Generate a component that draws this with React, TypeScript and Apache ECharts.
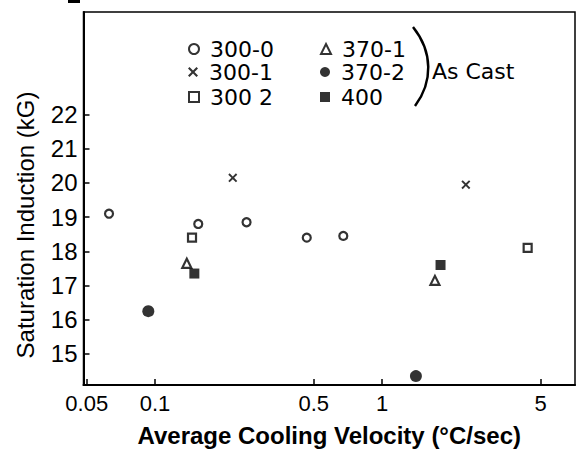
import React, { useEffect, useRef } from "react";
import * as echarts from "echarts";

const seriesNames = ["300-0", "300-1", "300 2", "370-1", "370-2", "400"];
const s300_0 = [[0.0627, 19.1], [0.155, 18.8], [0.253, 18.85], [0.466, 18.4], [0.675, 18.45]];
const s300_1 = [[0.22, 20.15], [2.34, 19.95]];
const s300_2 = [[0.1455, 18.4], [4.38, 18.1]];
const s370_1 = [[0.138, 17.65], [1.71, 17.15]];
const s370_2 = [[0.0934, 16.25], [1.41, 14.35]];
const s400 = [[0.149, 17.35], [1.81, 17.6]];
const xTicks = [0.05, 0.1, 0.5, 1, 5];
const yTicks = [15, 16, 17, 18, 19, 20, 21, 22];

const CROSS = "path://M0,1.5L1.5,0L5,3.5L8.5,0L10,1.5L6.5,5L10,8.5L8.5,10L5,6.5L1.5,10L0,8.5L3.5,5Z";

export default function App() {
  const ref = useRef<HTMLDivElement>(null);
  useEffect(() => {
    const chart = echarts.init(ref.current!, null, { renderer: "svg" });
    const hollow = { color: "#fff", borderColor: "#000", borderWidth: 2.2 };
    const solid = { color: "#000", borderColor: "#000", borderWidth: 0 };
    const styles: any[] = [
      { symbol: "circle", symbolSize: 8, itemStyle: hollow, data: s300_0 },
      { symbol: CROSS, symbolSize: 9, itemStyle: solid, data: s300_1 },
      { symbol: "rect", symbolSize: 8, itemStyle: hollow, data: s300_2 },
      { symbol: "triangle", symbolSize: 9, itemStyle: hollow, data: s370_1 },
      { symbol: "circle", symbolSize: 12, itemStyle: solid, data: s370_2 },
      { symbol: "rect", symbolSize: 10, itemStyle: solid, data: s400 },
    ];
    const series = styles.map((s, i) => ({
      type: "scatter",
      name: seriesNames[i],
      symbol: s.symbol,
      symbolSize: s.symbolSize,
      itemStyle: s.itemStyle,
      data: s.data,
    }));
    const legendPos = [
      [188, 49], [188, 72], [188, 97],
      [320, 49], [320, 72], [320, 97],
    ];
    const legends = seriesNames.map((n, i) => ({
      data: [n],
      left: legendPos[i][0],
      top: legendPos[i][1] - 11,
      padding: 0,
      itemWidth: 10,
      itemHeight: 10,
      selectedMode: false,
      textStyle: {
        fontFamily: "DejaVu Sans",
        fontSize: 22,
        color: "#000",
        padding: [0, 0, 0, 6],
      },
    }));
    chart.setOption({
      animation: false,
      backgroundColor: "#fff",
      grid: {
        left: 83.5,
        right: 5,
        top: 12,
        bottom: 59,
        show: true,
        borderColor: "#000",
        borderWidth: 1.5,
        backgroundColor: "transparent",
      },
      legend: legends,
      xAxis: {
        type: "log",
        min: 0.0484,
        max: 7.08,
        name: "Average Cooling Velocity (°C/sec)",
        nameLocation: "middle",
        nameGap: 38,
        nameTextStyle: { fontFamily: "Liberation Sans", fontSize: 24, fontWeight: "bold", color: "#000" },
        axisLine: { show: true, lineStyle: { color: "#000", width: 2 } },
        axisTick: { inside: true, length: 6, lineStyle: { color: "#000", width: 1.5 }, customValues: xTicks },
        axisLabel: {
          customValues: xTicks,
          margin: 7,
          fontFamily: "Liberation Sans",
          fontSize: 22,
          color: "#000",
          formatter: (v: number) => String(v),
        },
        splitLine: { show: false },
        minorTick: { show: false },
      },
      yAxis: {
        type: "value",
        min: 14.09,
        max: 25,
        axisLine: { show: true, lineStyle: { color: "#000", width: 2 } },
        axisTick: { inside: true, length: 6, lineStyle: { color: "#000", width: 1.5 }, customValues: yTicks },
        axisLabel: {
          customValues: yTicks,
          margin: 6,
          fontFamily: "Liberation Sans",
          fontSize: 24,
          color: "#000",
        },
        splitLine: { show: false },
      },
      graphic: [
        {
          type: "text",
          x: 25,
          y: 225,
          rotation: Math.PI / 2,
          style: {
            text: "Saturation Induction (kG)",
            fontFamily: "Liberation Sans",
            fontSize: 24,
            fill: "#000",
            align: "center",
            verticalAlign: "middle",
          },
        },
        {
          type: "text",
          x: 432,
          y: 71,
          style: {
            text: "As Cast",
            fontFamily: "DejaVu Sans",
            fontSize: 22,
            fill: "#000",
            align: "left",
            verticalAlign: "middle",
          },
        },
        {
          type: "bezierCurve",
          shape: { x1: 413, y1: 27, cpx1: 433, cpy1: 52, cpx2: 433, cpy2: 82, x2: 415, y2: 106 },
          style: { stroke: "#000", lineWidth: 2.5, fill: "none" },
        },
        {
          type: "rect",
          shape: { x: 68, y: 0, width: 12, height: 3 },
          style: { fill: "#000" },
        },
      ],
      series,
    });
    return () => chart.dispose();
  }, []);
  return (
    <div
      ref={ref}
      style={{ position: "fixed", left: 0, top: 0, width: 580, height: 452, background: "#fff" }}
    />
  );
}
